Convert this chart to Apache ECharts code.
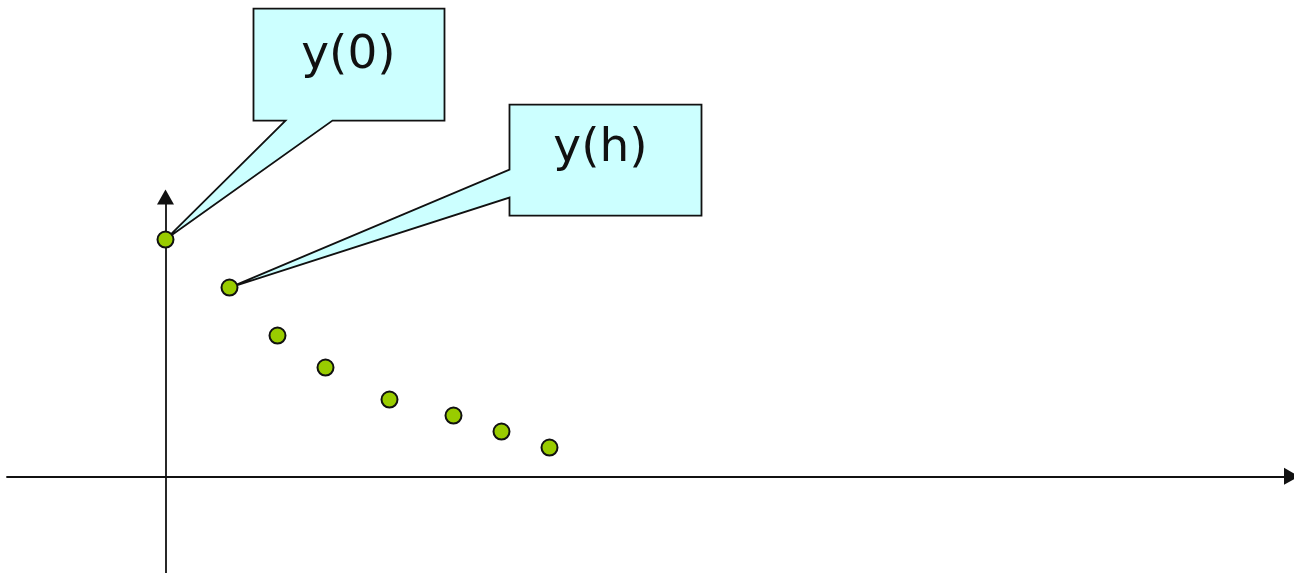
<!DOCTYPE html>
<html lang="en">
<head>
  <meta charset="UTF-8">
  <title>scatter</title>
  <style>
    html, body, #chart {
      margin: 0;
      padding: 0;
      width: 100%;
      height: 100%;
      background: #fff;
    }
  </style>
</head>
<body>
<div id="chart"></div>

<script src="https://cdn.jsdelivr.net/npm/echarts@6/dist/echarts.min.js"></script>
<script>
  // data, one unit = one sixteenth of the drawing
  var xValues = [0, 4, 7, 10, 14, 18, 21, 24];
  var yValues = [14.8, 11.8, 8.8, 6.8, 4.8, 3.8, 2.8, 1.8];
  var calloutIndex = [0, 1];
  var calloutText = ['y(0)', 'y(h)'];

  var xMin = -9.906, xMax = 70.375;
  var yMin = -6.04, yMax = 17.46;

  var dom = document.getElementById('chart');
  var chart = echarts.init(dom);

  var points = xValues.map(function (x, i) { return [x, yValues[i]]; });

  var axisLine = {
    show: true,
    onZero: true,
    symbol: ['none', 'triangle'],
    symbolSize: [17, 15],
    lineStyle: { color: '#111', width: 1.8 }
  };

  chart.setOption({
    animation: false,
    grid: { left: 7, right: 2.5, top: 197, bottom: 0 },
    xAxis: {
      type: 'value', min: xMin, max: xMax,
      axisLine: axisLine,
      axisTick: { show: false }, axisLabel: { show: false }, splitLine: { show: false }
    },
    yAxis: {
      type: 'value', min: yMin, max: yMax,
      axisLine: axisLine,
      axisTick: { show: false }, axisLabel: { show: false }, splitLine: { show: false }
    },
    series: [{
      type: 'scatter',
      z: 5,
      data: points,
      symbol: 'circle',
      symbolSize: 16,
      itemStyle: { color: '#99cc00', borderColor: '#111', borderWidth: 2, opacity: 1 }
    }]
  });

  // callout boxes, placed relative to the point they point at
  var boxLayouts = [
    { dx: 88, dy: -231, w: 191, h: 112, side: 'bottom', a: 32, b: 79, tx: 95, ty: 47 },
    { dx: 280, dy: -183, w: 192, h: 111, side: 'left', a: 65, b: 93, tx: 91, ty: 44 }
  ];

  var elements = [];
  calloutIndex.forEach(function (idx, k) {
    var tip = chart.convertToPixel({ gridIndex: 0 }, points[idx]);
    var L = boxLayouts[k];
    var x0 = tip[0] + L.dx, y0 = tip[1] + L.dy, x1 = x0 + L.w, y1 = y0 + L.h;
    var poly;
    if (L.side === 'bottom') {
      poly = [[x0, y0], [x1, y0], [x1, y1], [x0 + L.b, y1], tip, [x0 + L.a, y1], [x0, y1]];
    } else {
      poly = [[x0, y0], [x1, y0], [x1, y1], [x0, y1], [x0, y0 + L.b], tip, [x0, y0 + L.a]];
    }
    elements.push({
      type: 'polygon',
      z: 1,
      shape: { points: poly },
      style: { fill: '#ccffff', stroke: '#111', lineWidth: 1.8, lineJoin: 'miter' }
    });
    elements.push({
      type: 'text',
      z: 2,
      x: x0 + L.tx,
      y: y0 + L.ty,
      style: {
        text: calloutText[k],
        fill: '#111',
        font: '47px "DejaVu Sans"',
        align: 'center',
        verticalAlign: 'middle'
      }
    });
  });

  chart.setOption({ graphic: elements });
</script>
</body>
</html>
